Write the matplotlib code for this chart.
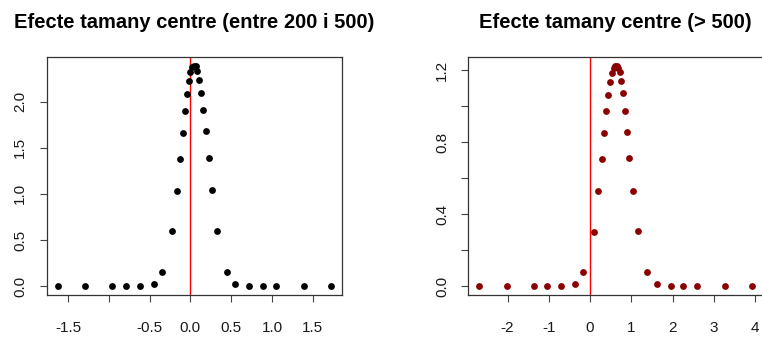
import matplotlib
matplotlib.use("Agg")
import matplotlib.pyplot as plt

plt.rcParams['font.family'] = ['Liberation Sans', 'DejaVu Sans']

# panel 1: centres between 200 and 500
x_left = [-1.627, -1.295, -0.959, -0.791, -0.623, -0.451, -0.348, -0.230, -0.164, -0.127,
          -0.090, -0.064, -0.040, -0.012, 0.000, 0.025, 0.045, 0.065, 0.085, 0.104,
          0.133, 0.157, 0.189, 0.225, 0.262, 0.328, 0.447, 0.549, 0.717, 0.889,
          1.053, 1.393, 1.721]
y_left = [0, 0, 0, 0, 0, 0.022, 0.153, 0.600, 1.029, 1.375,
          1.662, 1.900, 2.084, 2.222, 2.320, 2.370, 2.390, 2.380, 2.330, 2.236,
          2.090, 1.909, 1.676, 1.389, 1.040, 0.600, 0.153, 0.022, 0, 0,
          0, 0, 0]

# panel 2: centres > 500
x_right = [-2.686, -2.016, -1.355, -1.040, -0.710, -0.371, -0.177, 0.089, 0.185, 0.282,
           0.339, 0.395, 0.444, 0.492, 0.540, 0.575, 0.610, 0.645, 0.680, 0.718,
           0.758, 0.806, 0.855, 0.903, 0.952, 1.032, 1.153, 1.379, 1.613, 1.952,
           2.258, 2.597, 3.266, 3.927]
y_right = [0, 0, 0, 0, 0, 0.011, 0.078, 0.303, 0.526, 0.704,
           0.851, 0.970, 1.064, 1.135, 1.181, 1.210, 1.225, 1.225, 1.210, 1.187,
           1.141, 1.070, 0.975, 0.858, 0.710, 0.531, 0.307, 0.078, 0.011, 0,
           0, 0, 0, 0]

titles = ["Efecte tamany centre (entre 200 i 500)", "Efecte tamany centre (> 500)"]

xticks_left = [-1.5, -1.0, -0.5, 0.0, 0.5, 1.0, 1.5]
xlabels_left = ["-1.5", "", "-0.5", "0.0", "0.5", "1.0", "1.5"]
yticks_left = [0.0, 0.5, 1.0, 1.5, 2.0]
ylabels_left = ["0.0", "0.5", "1.0", "1.5", "2.0"]

xticks_right = [-2, -1, 0, 1, 2, 3, 4]
xlabels_right = ["-2", "-1", "0", "1", "2", "3", "4"]
yticks_right = [0.0, 0.2, 0.4, 0.6, 0.8, 1.0, 1.2]
ylabels_right = ["0.0", "", "0.4", "", "0.8", "", "1.2"]


def r_style(ax, xs, ys, color, title, xt, xl, yt, yl):
    ax.scatter(xs, ys, s=24, color=color, zorder=3, linewidths=0)
    ax.axvline(0, color='red', lw=1, zorder=2)
    # R-like 4% padding
    xr = max(xs) - min(xs)
    yr = max(ys) - min(ys)
    ax.set_xlim(min(xs) - 0.04 * xr, max(xs) + 0.04 * xr)
    ax.set_ylim(min(ys) - 0.04 * yr, max(ys) + 0.04 * yr)
    ax.set_xticks(xt)
    ax.set_xticklabels(xl)
    ax.set_yticks(yt)
    ax.set_yticklabels(yl, rotation=90, va='center')
    ax.tick_params(axis='x', length=5, width=0.8, color='#444444', pad=14,
                   labelsize=11, labelcolor='#1a1a1a')
    ax.tick_params(axis='y', length=5, width=0.8, color='#444444', pad=9,
                   labelsize=11, labelcolor='#1a1a1a')
    for sp in ax.spines.values():
        sp.set_color('#333333')
        sp.set_linewidth(0.9)
    ax.set_title(title, fontsize=14.5, fontweight='bold', pad=21)


fig = plt.figure(figsize=(7.62, 3.4), dpi=100)
ax1 = fig.add_axes([0.0613, 0.1324, 0.3871, 0.7009])
ax2 = fig.add_axes([0.6146, 0.1324, 0.3867, 0.7009])

r_style(ax1, x_left, y_left, 'black', titles[0],
        xticks_left, xlabels_left, yticks_left, ylabels_left)
r_style(ax2, x_right, y_right, '#8B0000', titles[1],
        xticks_right, xlabels_right, yticks_right, ylabels_right)

fig.savefig("out.png", dpi=100)
